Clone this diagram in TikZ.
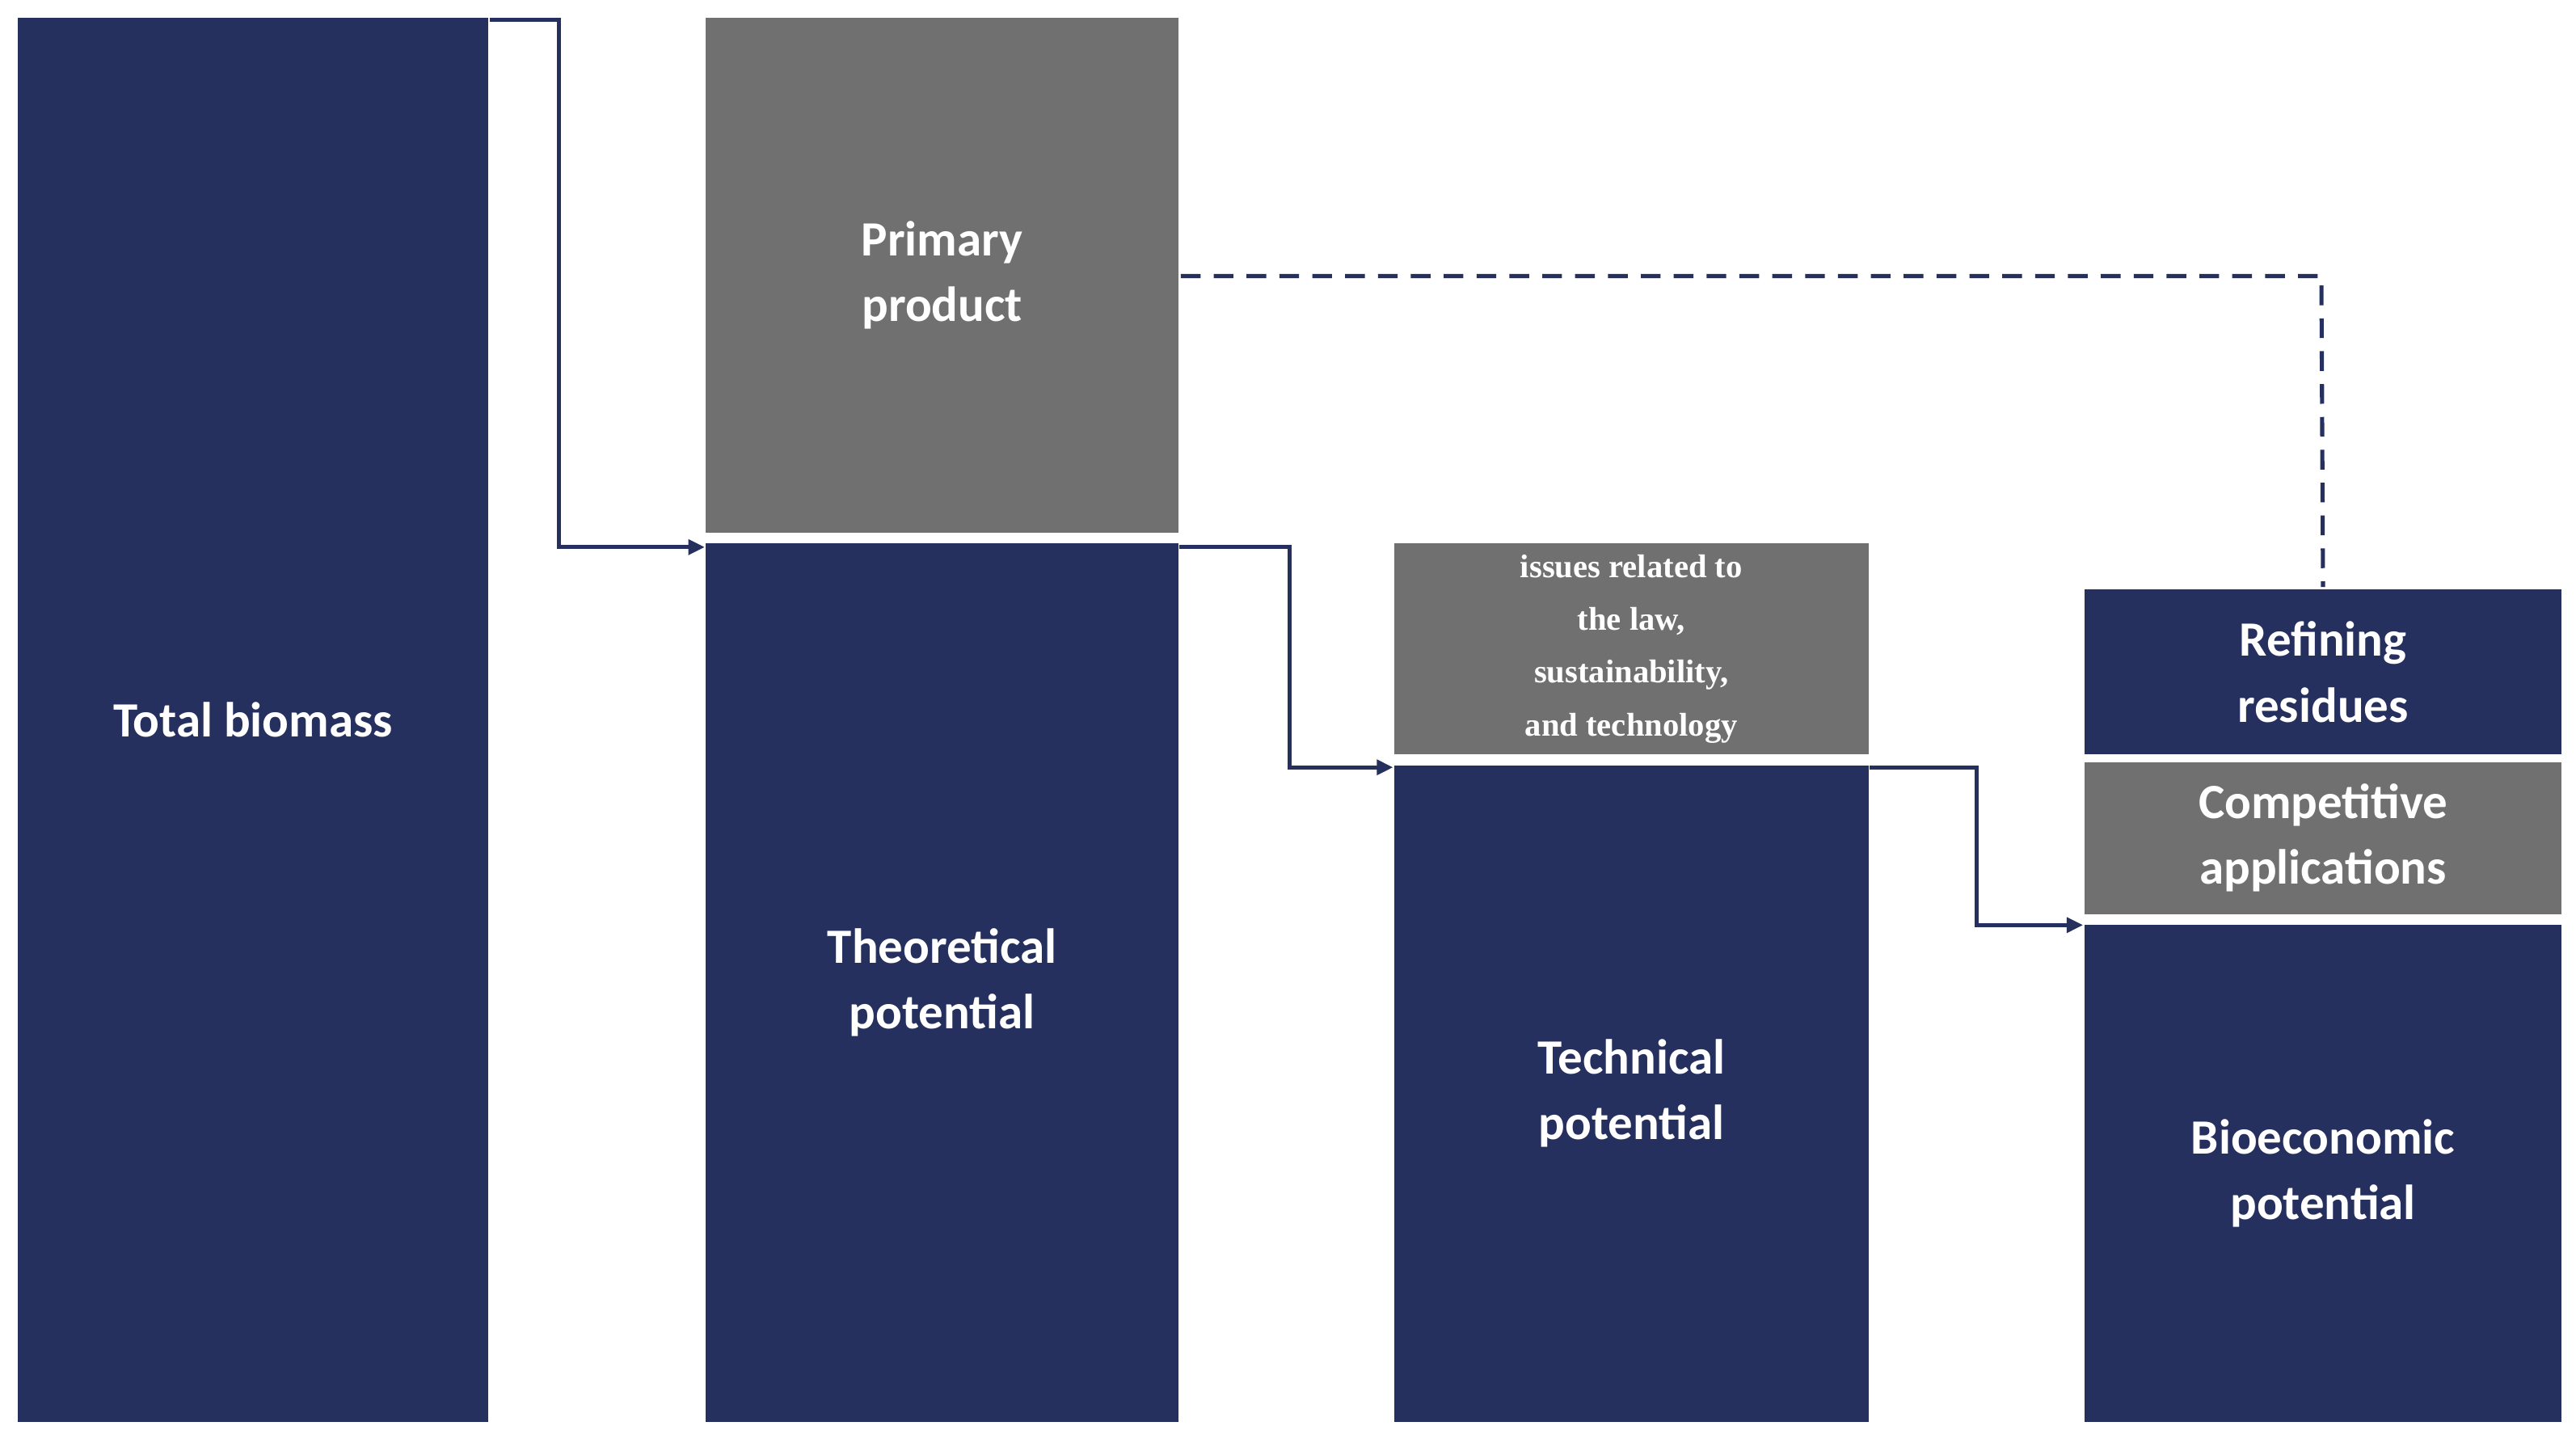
\documentclass[tikz,border=0pt]{standalone}
\usepackage{fontspec}
\setmainfont{Carlito}
\newfontfamily\serifx{Liberation Serif}
\usetikzlibrary{arrows.meta}
\definecolor{navy}{HTML}{26305E}
\definecolor{grayb}{HTML}{707070}
\begin{document}
\begin{tikzpicture}[x=1pt,y=-1pt,
 box/.style={draw=white,line width=1.5pt,fill=navy,text=white,font=\fontsize{30}{40}\selectfont\bfseries,align=center,inner sep=0pt},
 gbox/.style={box,fill=grayb},
 con/.style={draw=navy,line width=2.5pt,-{Triangle[length=10pt,width=9pt]}}]
\useasboundingbox[fill=white] (0,0) rectangle (1568,878);
\node[box,minimum width=288,minimum height=856] (tb) at (154,438) {Total biomass};
\node[gbox,minimum width=289,minimum height=315] (pp) at (573.5,167.5) {Primary\\product};
\node[box,minimum width=289,minimum height=536] (tp) at (573.5,598) {Theoretical\\potential};
\node[gbox,minimum width=290,minimum height=130,font=\serifx\fontsize{20}{32}\selectfont\bfseries] (is) at (993,395) {issues related to\\the law,\\sustainability,\\and technology};
\node[box,minimum width=290,minimum height=401] (te) at (993,665.5) {Technical\\potential};
\node[box,minimum width=292,minimum height=102] (rr) at (1414,409) {Refining\\residues};
\node[gbox,minimum width=292,minimum height=94] (ca) at (1414,510) {Competitive\\applications};
\node[box,minimum width=292,minimum height=304] (be) at (1414,714) {Bioeconomic\\potential};
\coordinate (a1) at (298,12);
\coordinate (a2) at (429,333);
\draw[con] (a1) -- (340,12) -- (340,333) -- (a2);
\coordinate (b1) at (718,333);
\coordinate (b2) at (848,467);
\draw[con] (b1) -- (785,333) -- (785,467) -- (b2);
\coordinate (c1) at (1138,467);
\coordinate (c2) at (1268,563);
\draw[con] (c1) -- (1203,467) -- (1203,563) -- (c2);
\draw[navy,line width=2.5pt,dash pattern=on 12pt off 8pt] (pp.east|-0,168) -- (1413,168) -- (rr.north);
\end{tikzpicture}
\end{document}
